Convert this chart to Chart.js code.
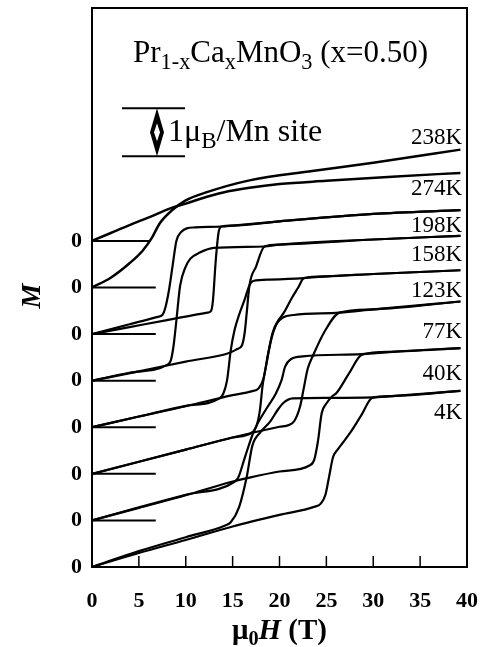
<!DOCTYPE html>
<html>
<head>
<meta charset="utf-8">
<script src="https://cdn.jsdelivr.net/npm/chart.js@4.4.1/dist/chart.umd.min.js"></script>
<style>
  html, body { margin: 0; padding: 0; background: #fff; }
</style>
</head>
<body>
<canvas id="mh" width="485" height="647"></canvas>
<script>
// temperatures from the bottom curve upwards; curve i is shifted up by i
const temps = ['4K', '40K', '77K', '123K', '158K', '198K', '238K', '274K'];

// field sweeps, [H (T), M (muB/Mn)]; both branches listed with H increasing
const up4K = [[0,0],[5,0.30],[10,0.58],[15,0.87],[20,1.12],[23.7,1.29],[24.4,1.36],[24.9,1.55],[25.3,1.95],[25.7,2.35],[26.2,2.52],[26.8,2.68],[27.6,2.90],[28.7,3.25],[29.9,3.63],[32,3.67],[39.3,3.78]];
const down4K = [[0,0],[5,0.34],[10,0.64],[14.2,0.89],[14.8,0.96],[15.7,1.29],[16.5,1.93],[17.1,2.6],[18.0,2.9],[19.0,3.12],[19.8,3.37],[20.4,3.52],[21.4,3.62],[25,3.63],[29.9,3.64],[32,3.67],[39.3,3.78]];

const up40K = [[0,0],[5,0.27],[10,0.54],[14.7,0.82],[16.8,0.92],[20,1.05],[23.2,1.18],[23.7,1.30],[24.1,1.7],[24.5,2.3],[25.0,2.51],[25.6,2.66],[26.1,2.74],[27.4,3.15],[28.8,3.56],[32,3.62],[39.3,3.70]];
const down40K = [[0,0],[5,0.28],[10,0.55],[15.2,0.83],[15.6,0.92],[16.3,1.35],[17.3,1.93],[18.7,2.43],[19.6,2.72],[20.2,3.0],[20.6,3.3],[21.2,3.46],[22.5,3.52],[28.8,3.57],[32,3.62],[39.3,3.70]];

const up77K = [[0,0],[5,0.26],[10,0.52],[15,0.78],[20,1.01],[21.0,1.05],[21.6,1.14],[22.2,1.45],[22.6,1.85],[23.0,2.25],[23.6,2.55],[24.8,3.05],[26.4,3.46],[30,3.53],[39.3,3.70]];
const down77K = [[0,0],[5,0.26],[10,0.52],[15,0.78],[17.0,0.88],[17.5,1.0],[17.9,1.35],[18.2,1.9],[18.6,2.35],[19.1,2.87],[19.7,3.22],[20.4,3.36],[21.5,3.41],[26.4,3.46],[30,3.53],[39.3,3.70]];

const up123K = [[0,0],[5,0.23],[10,0.45],[15,0.69],[17,0.77],[17.8,0.84],[18.3,1.05],[18.8,1.6],[19.3,2.05],[19.8,2.27],[20.5,2.47],[21.3,2.77],[22.0,3.0],[22.6,3.2],[25,3.24],[30,3.29],[39.3,3.37]];
const down123K = [[0,0],[5,0.23],[10,0.46],[13.6,0.62],[14.0,0.72],[14.4,1.0],[14.8,1.65],[15.2,2.08],[15.7,2.42],[16.3,2.75],[16.8,3.05],[17.2,3.14],[19,3.17],[22.6,3.2],[25,3.24],[30,3.29],[39.3,3.37]];

const up158K = [[0,0],[5,0.2],[10,0.41],[14.7,0.6],[15.5,0.68],[16.0,0.76],[16.3,1.05],[16.5,1.45],[16.8,2.05],[17.5,2.45],[18.4,2.88],[20,2.92],[30,3.03],[39.3,3.11]];
const down158K = [[0,0],[4,0.17],[8.0,0.34],[8.4,0.43],[8.7,0.75],[9.0,1.29],[9.4,2.04],[10.0,2.45],[10.5,2.62],[11.5,2.75],[13,2.85],[18.4,2.88],[20,2.92],[30,3.03],[39.3,3.11]];

const up198K = [[0,0],[4,0.15],[8,0.3],[12.3,0.46],[12.7,0.5],[12.9,0.72],[13.2,1.58],[13.5,2.18],[13.8,2.31],[15,2.33],[20,2.42],[30,2.58],[39.3,2.66]];
const down198K = [[0,0],[4,0.21],[7.0,0.37],[7.5,0.41],[7.8,0.55],[8.2,0.93],[8.6,1.47],[9.0,2.0],[9.5,2.19],[10.1,2.27],[11,2.29],[13.8,2.31],[15,2.33],[20,2.42],[30,2.58],[39.3,2.66]];

const sweep238K = [[0,0],[2,0.21],[4,0.52],[5.4,0.79],[6.4,1.07],[7.2,1.37],[8.5,1.65],[10,1.87],[12,2.03],[16.8,2.3],[23.5,2.5],[30,2.68],[39.3,2.96]];
const sweep274K = [[0,0],[2,0.17],[4,0.34],[6,0.5],[8.5,0.71],[10,0.8],[11.5,0.9],[14,1.04],[16.8,1.14],[20,1.22],[25,1.29],[32,1.38],[39.3,1.46]];

const xTicks = [0, 5, 10, 15, 20, 25, 30, 35, 40];

const sweeps = [
  [up4K, down4K], [up40K, down40K], [up77K, down77K], [up123K, down123K],
  [up158K, down158K], [up198K, down198K], [sweep238K], [sweep274K]
];

// where each temperature label sits, px below the end of its curve
const labelDy = [22, 26, 30, 21, 19, 16, -12, 16];
const zeroLineEnd = [0, 6.8, 6.8, 6.8, 6.8, 6.8, 6.8, 6.3];

const SERIF = '"Liberation Serif", "Times New Roman", serif';

const datasets = [];
sweeps.forEach((branches, i) => {
  branches.forEach(b => datasets.push({
    data: b.map(([h, m]) => ({ x: h, y: m + i })),
    borderColor: '#000',
    borderWidth: i >= 6 ? 2.5 : 2.2,
    pointRadius: 0,
    showLine: true,
    cubicInterpolationMode: 'monotone'
  }));
  if (zeroLineEnd[i] > 0) {
    datasets.push({
      data: [{ x: 0, y: i }, { x: zeroLineEnd[i], y: i }],
      borderColor: '#000', borderWidth: 2, pointRadius: 0, showLine: true
    });
  }
});

// text with subscripts, parts drawn left to right
function richWidth(ctx, parts, size, style, subRatio) {
  let w = 0;
  parts.forEach(p => {
    ctx.font = `${p.style || style} ${p.sub ? size * subRatio : size}px ${SERIF}`;
    w += ctx.measureText(p.t).width;
  });
  return w;
}
function richText(ctx, parts, x, y, size, style, subRatio) {
  let cx = x;
  parts.forEach(p => {
    const s = p.sub ? size * subRatio : size;
    ctx.font = `${p.style || style} ${s}px ${SERIF}`;
    ctx.fillText(p.t, cx, y + (p.sub ? size * 0.22 : 0));
    cx += ctx.measureText(p.t).width;
  });
}

const decor = {
  id: 'decor',
  afterDatasetsDraw(chart) {
    const { ctx, chartArea: a, scales: { x, y } } = chart;
    ctx.save();
    ctx.fillStyle = '#000';
    ctx.strokeStyle = '#000';

    // frame and inward ticks
    ctx.lineWidth = 2;
    ctx.strokeRect(a.left, a.top, a.right - a.left, a.bottom - a.top);
    ctx.lineWidth = 1.5;
    xTicks.slice(1, -1).forEach(v => {
      const px = x.getPixelForValue(v);
      ctx.beginPath();
      ctx.moveTo(px, a.bottom);
      ctx.lineTo(px, a.bottom - 11);
      ctx.stroke();
    });

    // compound name
    ctx.textBaseline = 'alphabetic';
    ctx.textAlign = 'left';
    richText(ctx, [
      { t: 'Pr' }, { t: '1-x', sub: true }, { t: 'Ca' }, { t: 'x', sub: true },
      { t: 'MnO' }, { t: '3', sub: true }, { t: ' (x=0.50)' }
    ], 133, 62, 31, 'normal', 0.72);

    // 1 muB scale bar
    const yTop = y.getPixelForValue(9.85);
    const yBot = y.getPixelForValue(8.82);
    const xl = 122, xr = 185, xm = 157;
    ctx.lineWidth = 2;
    ctx.beginPath();
    ctx.moveTo(xl, yTop); ctx.lineTo(xr, yTop);
    ctx.moveTo(xl, yBot); ctx.lineTo(xr, yBot);
    ctx.stroke();
    const ym = (yTop + yBot) / 2;
    ctx.beginPath();
    ctx.moveTo(xm, yTop); ctx.lineTo(xm + 7, ym); ctx.lineTo(xm, yBot); ctx.lineTo(xm - 7, ym);
    ctx.closePath(); ctx.fill();
    ctx.fillStyle = '#fff';
    ctx.beginPath();
    ctx.moveTo(xm, ym - 9); ctx.lineTo(xm + 3, ym); ctx.lineTo(xm, ym + 9); ctx.lineTo(xm - 3, ym);
    ctx.closePath(); ctx.fill();
    ctx.fillStyle = '#000';
    richText(ctx, [{ t: '1\u03bc' }, { t: 'B', sub: true }, { t: '/Mn site' }], 168, 141, 32, 'normal', 0.72);

    // temperature labels at the right end of each curve
    ctx.textAlign = 'right';
    ctx.textBaseline = 'middle';
    ctx.font = `23px ${SERIF}`;
    sweeps.forEach((branches, i) => {
      const last = branches[0][branches[0].length - 1];
      ctx.fillText(temps[i], 462, y.getPixelForValue(last[1] + i) + labelDy[i]);
    });

    // axis titles
    ctx.textAlign = 'left';
    ctx.textBaseline = 'alphabetic';
    const xt = [{ t: '\u03bc' }, { t: '0', sub: true }, { t: 'H', style: 'italic bold' }, { t: ' (T)' }];
    const w = richWidth(ctx, xt, 29, 'bold', 0.7);
    richText(ctx, xt, (a.left + a.right) / 2 - w / 2, 639, 29, 'bold', 0.7);

    ctx.translate(33, 296);
    ctx.rotate(-Math.PI / 2);
    ctx.textAlign = 'center';
    ctx.textBaseline = 'middle';
    ctx.font = `italic bold 28px ${SERIF}`;
    ctx.fillText('M', 0, 0);
    ctx.restore();
  }
};

// keep the plot box fixed: no extra room for edge labels
const noEdgePad = s => { s.paddingLeft = 0; s.paddingRight = 0; s.paddingTop = 0; s.paddingBottom = 0; };

new Chart(document.getElementById('mh'), {
  type: 'scatter',
  data: { datasets },
  options: {
    responsive: false,
    animation: false,
    layout: { padding: { top: 8, right: 18, left: 0, bottom: 0 } },
    plugins: { legend: { display: false }, tooltip: { enabled: false } },
    scales: {
      x: {
        type: 'linear', min: 0, max: 40,
        afterBuildTicks: s => { s.ticks = xTicks.map(v => ({ value: v })); },
        afterFit: s => { s.height = 80; noEdgePad(s); },
        grid: { display: false, drawTicks: false },
        border: { display: false },
        ticks: { color: '#000', padding: 21, maxRotation: 0,
                 font: { family: SERIF, size: 22, weight: 'bold' } }
      },
      y: {
        type: 'linear', min: 0, max: 12,
        afterBuildTicks: s => { s.ticks = temps.map((t, i) => ({ value: i })); },
        afterFit: s => { s.width = 92; noEdgePad(s); },
        grid: { display: false, drawTicks: false },
        border: { display: false },
        ticks: { color: '#000', padding: 10, callback: () => '0',
                 font: { family: SERIF, size: 22, weight: 'bold' } }
      }
    }
  },
  plugins: [decor]
});
</script>
</body>
</html>
